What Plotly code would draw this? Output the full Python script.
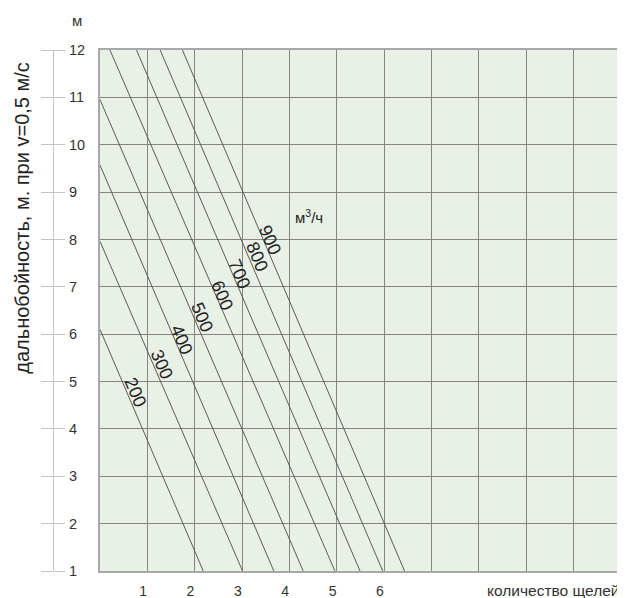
import plotly.graph_objects as go

# air flow, m3/h
flows = [200, 300, 400, 500, 600, 700, 800, 900]
# each line: start point (left/top edge) and end point (bottom edge)
start_x = [0, 0, 0, 0, 0.21, 0.77, 1.27, 1.74]
start_y = [6.1, 7.96, 9.57, 10.95, 12, 12, 12, 12]
end_x = [2.18, 3.01, 3.67, 4.29, 4.96, 5.49, 5.97, 6.43]
end_y = [1, 1, 1, 1, 1, 1, 1, 1]
# label positions along the lines
label_x = [0.74, 1.30, 1.72, 2.15, 2.57, 2.95, 3.32, 3.59]
label_y = [4.77, 5.37, 5.87, 6.36, 6.82, 7.28, 7.63, 7.99]

slots = [1, 2, 3, 4, 5, 6]
y_ticks = list(range(1, 13))

FONT = "Arial, Liberation Sans, sans-serif"
TXT = "#333333"
GRID = "#858585"

fig = go.Figure()

for f, x0, y0, x1, y1 in zip(flows, start_x, start_y, end_x, end_y):
    fig.add_trace(go.Scatter(
        x=[x0, x1], y=[y0, y1], mode="lines",
        line=dict(color="#5a5a5a", width=1),
        name=str(f), showlegend=False, hoverinfo="skip"
    ))

# empty traces so the decorative y axes get drawn
fig.add_trace(go.Scatter(x=[None], y=[None], yaxis="y2", showlegend=False, hoverinfo="skip"))
fig.add_trace(go.Scatter(x=[None], y=[None], yaxis="y3", showlegend=False, hoverinfo="skip"))

for f, lx, ly in zip(flows, label_x, label_y):
    fig.add_annotation(x=lx, y=ly, text=str(f), showarrow=False, textangle=67,
                       xanchor="center", yanchor="middle",
                       font=dict(family=FONT, size=18, color="#222222"))

fig.add_annotation(x=4.42, y=8.48, text="м<sup>3</sup>/ч", showarrow=False,
                   xanchor="center", yanchor="middle",
                   font=dict(family=FONT, size=15, color="#222222"))

fig.add_annotation(xref="paper", yref="paper", x=1.0, y=-0.0365, xanchor="right", yanchor="middle",
                   text="количество щелей", showarrow=False,
                   font=dict(family=FONT, size=15.5, color=TXT))
fig.add_annotation(xref="paper", yref="paper", x=-0.031, y=0.678, xanchor="center", yanchor="middle",
                   text="дальнобойность, м. при v=0,5 м/с", showarrow=False, textangle=-90,
                   font=dict(family=FONT, size=20, color="#222222"))
fig.add_annotation(xref="paper", yref="paper", x=0.0637, y=1.057, xanchor="center", yanchor="middle",
                   text="м", showarrow=False,
                   font=dict(family=FONT, size=15, color=TXT))

axis_pos = 13 / 581

# the page body adds an 8px offset, so the figure is 8px smaller and margins shifted
fig.update_layout(
    width=617, height=590,
    margin=dict(l=32, r=4, t=42, b=27),
    plot_bgcolor="#e9f0e6",
    paper_bgcolor="white",
    showlegend=False,
    xaxis=dict(
        domain=[60 / 581, 1], range=[0, 11], automargin=False,
        tickmode="array", tickvals=[s - 0.09 for s in slots], ticktext=[str(s) for s in slots],
        ticks="", showgrid=False, zeroline=False,
        showline=True, linecolor="#a8a8a8", linewidth=1.5, mirror=True,
        tickfont=dict(family=FONT, size=14, color=TXT), ticklabelstandoff=6,
        minor=dict(tickmode="array", tickvals=list(range(0, 12)), showgrid=True,
                   gridcolor=GRID, gridwidth=1, ticks=""),
    ),
    yaxis=dict(
        range=[1, 12], tickmode="array", tickvals=y_ticks, showticklabels=False,
        ticks="", showgrid=True, gridcolor=GRID, gridwidth=1, zeroline=False, automargin=False,
        showline=True, linecolor="#a8a8a8", linewidth=1.5, mirror=True,
    ),
    yaxis2=dict(
        overlaying="y", anchor="free", position=axis_pos, side="right", automargin=False,
        range=[1, 12], tickmode="array", tickvals=y_ticks,
        ticks="outside", ticklen=11, tickcolor="#c4c4c4", tickwidth=1,
        showline=True, linecolor="#c4c4c4", linewidth=1,
        showgrid=False, zeroline=False,
        tickfont=dict(family=FONT, size=14.5, color=TXT), ticklabelstandoff=1,
    ),
    yaxis3=dict(
        overlaying="y", anchor="free", position=axis_pos, side="left", automargin=False,
        range=[1, 12], tickmode="array", tickvals=y_ticks, showticklabels=False,
        ticks="outside", ticklen=12, tickcolor="#c4c4c4", tickwidth=1,
        showline=False, showgrid=False, zeroline=False,
    ),
)

fig.write_html("out.html")
